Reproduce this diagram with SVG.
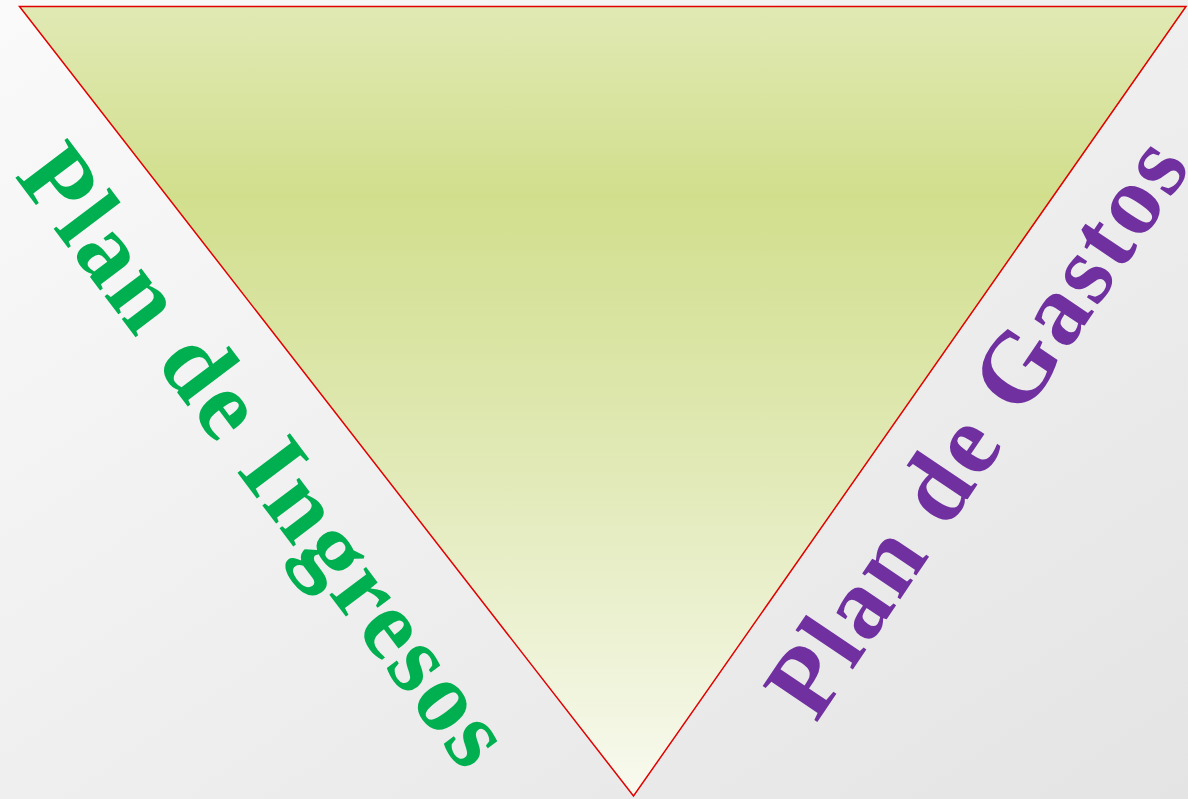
<svg xmlns="http://www.w3.org/2000/svg" width="1188" height="799" viewBox="0 0 1188 799">
  <defs>
    <linearGradient id="bg" x1="0" y1="0" x2="1" y2="1">
      <stop offset="0" stop-color="#fafafa"/>
      <stop offset="1" stop-color="#e4e4e4"/>
    </linearGradient>
    <linearGradient id="tri" x1="0" y1="6" x2="0" y2="796" gradientUnits="userSpaceOnUse">
      <stop offset="0" stop-color="#e1e9b4"/>
      <stop offset="0.24" stop-color="#d1df8d"/>
      <stop offset="0.6" stop-color="#e2eab9"/>
      <stop offset="1" stop-color="#f8faef"/>
    </linearGradient>
    <style>
      .lbl { font-family: "Liberation Serif", "Times New Roman", serif; font-weight: bold; font-size: 100px; }
      .green { fill: #00b050; }
      .purple { fill: #7030a0; }
    </style>
  </defs>
  <rect x="0" y="0" width="1188" height="799" fill="url(#bg)"/>
  <g id="triangle">
    <polygon points="19.5,6.5 1186,6.5 633.5,796" fill="url(#tri)" stroke="#e00000" stroke-width="1.5" stroke-linejoin="miter"/>
  </g>
  <g id="plan-ingresos">
    <text class="lbl green" transform="translate(14,176) rotate(53)" textLength="748" lengthAdjust="spacing">Plan de Ingresos</text>
  </g>
  <g id="plan-gastos">
    <text class="lbl purple" transform="translate(816,724) rotate(-56)" textLength="672" lengthAdjust="spacing">Plan de Gastos</text>
  </g>
  <g id="connectors"/>
</svg>
